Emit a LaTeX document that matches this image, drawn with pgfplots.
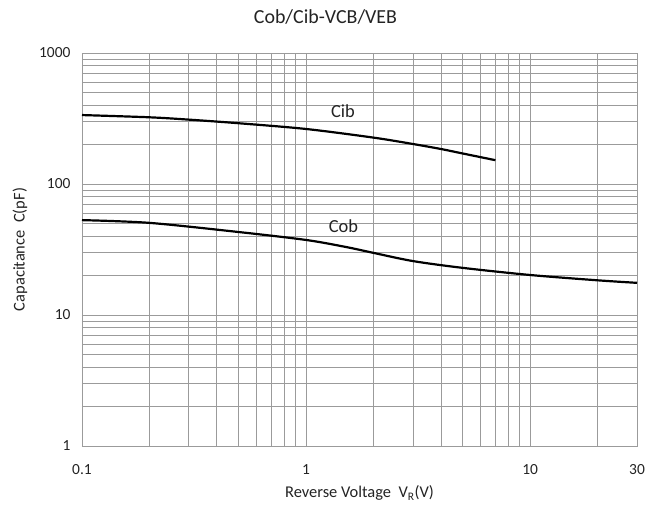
\documentclass[border=0pt]{standalone}
\usepackage{fontspec}
\setmainfont{Carlito}
\usepackage{pgfplots}
\pgfplotsset{compat=1.18}
\definecolor{gridgray}{RGB}{155,155,155}
\definecolor{txt}{RGB}{35,35,35}

\begin{document}
\begin{tikzpicture}
\path[use as bounding box] (-82bp,-59bp) rectangle (570bp,446bp);
\begin{axis}[
    xmode=log, ymode=log,
    scale only axis,
    width=555bp, height=393bp,
    xmin=0.1, xmax=30, ymin=1, ymax=1000,
    xtick={0.1,1,10,30}, xticklabels={0.1,1,10,30},
    ytick={1,10,100,1000}, yticklabels={1,10,100,1000},
    minor xtick={0.2,0.3,0.4,0.5,0.6,0.7,0.8,0.9,2,3,4,5,6,7,8,9,20},
    minor ytick={2,3,4,5,6,7,8,9,20,30,40,50,60,70,80,90,200,300,400,500,600,700,800,900},
    major tick length=0pt, minor tick length=0pt,
    grid=both,
    major grid style={gridgray, line width=0.8bp},
    minor grid style={gridgray, line width=0.8bp},
    axis line style={gridgray, line width=0.8bp},
    tick label style={font=\fontsize{15.5}{17}\selectfont, text=txt},
    xticklabel style={yshift=-15bp},
    yticklabel style={xshift=-8bp},
    clip=false,
]
% Cib
\addplot[black, line width=2.2bp, smooth] coordinates {
    (0.1,336) (0.2,323) (0.3,310) (0.5,291) (1,263) (2,226) (3,202) (4,185) (5,171) (7,152)
};
% Cob
\addplot[black, line width=2.2bp, smooth] coordinates {
    (0.1,53) (0.2,50.5) (0.5,43) (1,37.4) (1.5,33.1) (2,29.8) (3,25.8) (5,22.9) (10,20.2) (20,18.4) (30,17.6)
};
\node[font=\fontsize{18.5}{20}\selectfont, text=txt] at (axis cs:1.46,361) {Cib};
\node[font=\fontsize{18.5}{20}\selectfont, text=txt] at (axis cs:1.47,47.8) {Cob};
\node[font=\fontsize{20}{22}\selectfont, text=txt] at ([xshift=-34bp,yshift=36bp]rel axis cs:0.5,1) {Cob/Cib-VCB/VEB};
\node[font=\fontsize{16.5}{18}\selectfont, text=txt] at ([yshift=-47bp]rel axis cs:0.5,0) {Reverse Voltage~~V\textsubscript{R}(V)};
\node[font=\fontsize{16.5}{18}\selectfont, text=txt, rotate=90] at ([xshift=-62bp]rel axis cs:0,0.5) {Capacitance~~C(pF)};
\end{axis}
\end{tikzpicture}
\end{document}
